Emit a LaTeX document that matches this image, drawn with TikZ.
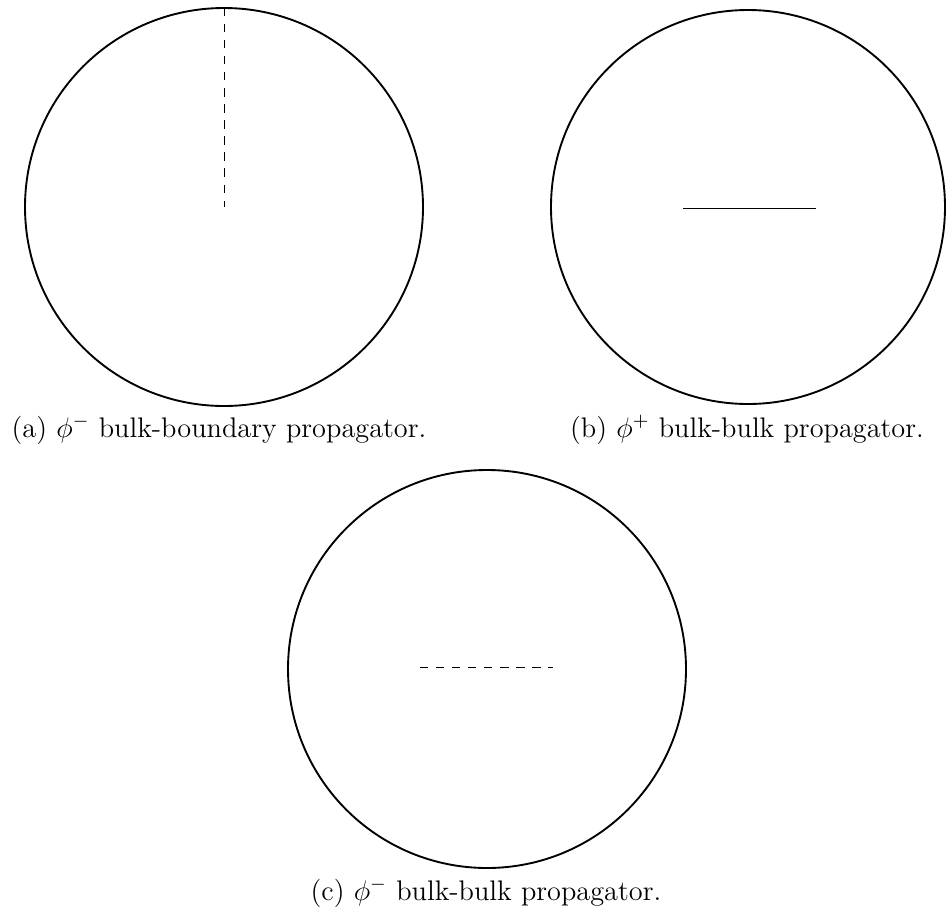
\documentclass[12pt,tikz,border=0pt]{standalone}
\usepackage{amsmath,amssymb}
\usepackage{tikz}
\usetikzlibrary{calc}
\tikzstyle{bdry} = [draw, thick]
\tikzstyle{prop} = [draw, thin]
\tikzstyle{dprop} = [draw, thin, dash pattern=on 3.5pt off 3.3pt]
\tikzstyle{captext} = [inner sep=0pt, anchor=base]

\begin{document}
\begin{tikzpicture}
				[x=0.4237pt, y=-0.4237pt]
				\useasboundingbox (0,0) rectangle (946,918);
				% centres of the three discs
				\coordinate (ca) at (224,207);
				\coordinate (cb) at (748,207);
				\coordinate (cc) at (487,669);
				\draw[bdry] (ca) circle (199);
				\draw[bdry] (cb) circle (197);
				\draw[bdry] (cc) circle (199);
				% propagators
				\coordinate (ta) at (224,8);
				\coordinate (lb) at (683,208);
				\coordinate (rb) at (816,208);
				\coordinate (lc) at (420,667);
				\coordinate (rc) at (553,667);
				\draw[dprop] (ta) -- (ca);
				\draw[prop] (lb) -- (rb);
				\draw[dprop] (lc) -- (rc);
				% captions
				\draw (219,437) node[captext](capa){(a) $\phi^-$ bulk-boundary propagator.};
				\draw (747,437) node[captext](capb){(b) $\phi^+$ bulk-bulk propagator.};
				\draw (486,900) node[captext](capc){(c) $\phi^-$ bulk-bulk propagator.};
			\end{tikzpicture}
\end{document}
